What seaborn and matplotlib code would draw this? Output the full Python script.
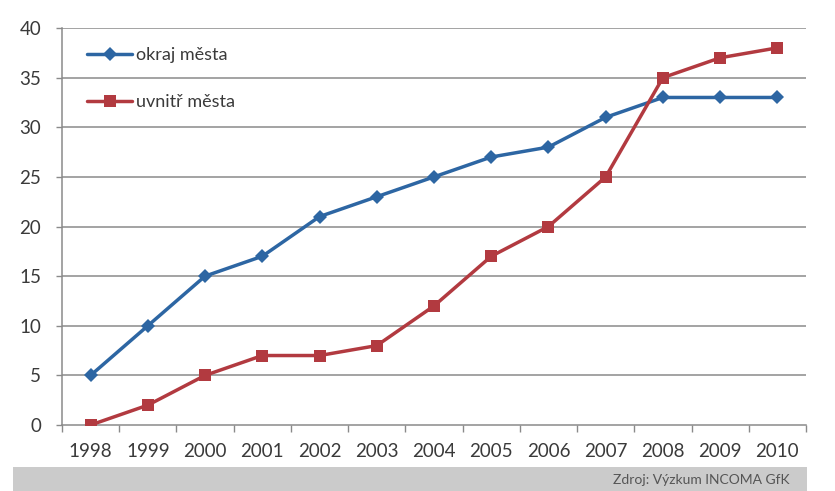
import matplotlib
matplotlib.use("Agg")
import matplotlib.pyplot as plt
from matplotlib.patches import Rectangle
import pandas as pd
import seaborn as sns

years = [1998, 1999, 2000, 2001, 2002, 2003, 2004, 2005, 2006, 2007, 2008, 2009, 2010]
okraj_mesta = [5, 10, 15, 17, 21, 23, 25, 27, 28, 31, 33, 33, 33]
uvnitr_mesta = [0, 2, 5, 7, 7, 8, 12, 17, 20, 25, 35, 37, 38]
series_names = ["okraj města", "uvnitř města"]
y_ticks = [0, 5, 10, 15, 20, 25, 30, 35, 40]
source_text = "Zdroj: Výzkum INCOMA GfK"

sns.set_theme(style="white")
plt.rcParams["font.family"] = ["Lato", "DejaVu Sans"]

df = pd.DataFrame({
    "rok": years * 2,
    "hodnota": okraj_mesta + uvnitr_mesta,
    "serie": [series_names[0]] * len(years) + [series_names[1]] * len(years),
})

fig = plt.figure(figsize=(8.35, 4.91), dpi=100)
ax = fig.add_axes([62 / 835, 66 / 491, 744 / 835, 397 / 491])

palette = {series_names[0]: "#2d66a3", series_names[1]: "#b23a40"}
markers = {series_names[0]: "D", series_names[1]: "s"}
sns.lineplot(data=df, x="rok", y="hodnota", hue="serie", style="serie",
             palette=palette, markers=markers, dashes=False, linewidth=2.5,
             markersize=8.5, markeredgewidth=0, ax=ax, legend=True, zorder=3)
# slightly smaller diamonds
for line in ax.lines:
    if line.get_marker() == "D":
        line.set_markersize(7)

ax.set_xlim(years[0] - 0.5, years[-1] + 0.5)
ax.set_ylim(0, 40)
ax.set_yticks(y_ticks)
ax.set_xticks(years)
ax.set_xticks([y - 0.5 for y in years] + [years[-1] + 0.5], minor=True)
ax.set_xlabel("")
ax.set_ylabel("")

for y in y_ticks[1:]:
    ax.axhline(y, color="#8a8a8a", linewidth=1.1, zorder=1)

for side in ["top", "right"]:
    ax.spines[side].set_visible(False)
for side in ["left", "bottom"]:
    ax.spines[side].set_color("#8a8a8a")
    ax.spines[side].set_linewidth(1.1)

ax.tick_params(axis="y", which="major", left=True, length=4, width=1,
               color="#8a8a8a", labelsize=13.5, labelcolor="#3a3a3a", pad=11)
ax.tick_params(axis="x", which="major", bottom=False, labelsize=13.5,
               labelcolor="#3a3a3a", pad=7)
ax.tick_params(axis="x", which="minor", bottom=True, length=5, width=1,
               color="#8a8a8a")

leg = ax.legend(loc="upper left", bbox_to_anchor=(0.024, 0.97), frameon=False,
                fontsize=13, labelspacing=1.7, handlelength=2.5,
                handletextpad=0.2, borderaxespad=0.0)
for t in leg.get_texts():
    t.set_color("#3a3a3a")

# source band along the bottom edge
fig.patches.append(Rectangle((13 / 835, 0), 794 / 835, 24 / 491,
                             transform=fig.transFigure, facecolor="#cbcbcb",
                             edgecolor="none", zorder=0))
fig.text(790 / 835, 11 / 491, source_text, ha="right", va="center",
         fontsize=10, color="#555555")

fig.savefig("out.png", dpi=100)
